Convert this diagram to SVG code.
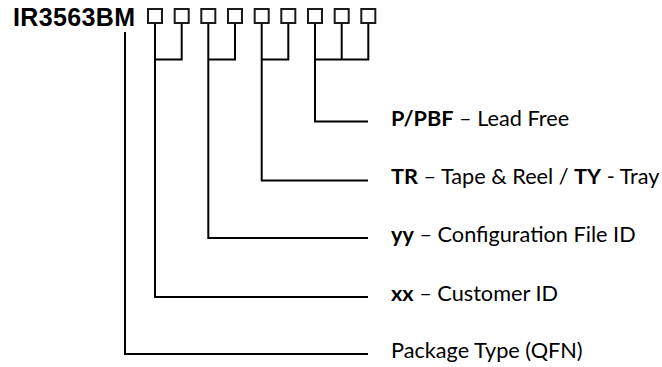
<svg xmlns="http://www.w3.org/2000/svg" width="662" height="367" viewBox="0 0 662 367">
<style>
.bg{fill:#ffffff}
.box{fill:#ffffff;stroke:#1a1a1a;stroke-width:2}
.conn{fill:none;stroke:#000000;stroke-width:2;stroke-linecap:butt;stroke-linejoin:miter}
.title{font-family:"Liberation Sans",Arial,sans-serif;font-weight:bold;font-size:25px;fill:#000000}
.lbl{font-family:Lato,"Open Sans","Liberation Sans",sans-serif;font-size:21.7px;fill:#000000}
.b{font-weight:bold}
</style>
<rect class="bg" x="0" y="0" width="662" height="367"/>
<g id="part-number">
<text class="title" x="13" y="26" textLength="122">IR3563BM</text>
<rect class="box" x="148" y="9" width="14" height="14"/>
<rect class="box" x="174.7" y="9" width="14" height="14"/>
<rect class="box" x="201.3" y="9" width="14" height="14"/>
<rect class="box" x="228" y="9" width="14" height="14"/>
<rect class="box" x="254.7" y="9" width="14" height="14"/>
<rect class="box" x="281.3" y="9" width="14" height="14"/>
<rect class="box" x="308" y="9" width="14" height="14"/>
<rect class="box" x="334.7" y="9" width="14" height="14"/>
<rect class="box" x="361.3" y="9" width="14" height="14"/>
</g>
<g id="connectors">
<path class="conn" d="M125,32 V354 H368"/>
<path class="conn" d="M181.7,24 V59.5 H155 M155,24 V297 H368"/>
<path class="conn" d="M235,24 V59.5 H208.3 M208.3,24 V238 H368"/>
<path class="conn" d="M288.3,24 V59.5 H261.7 M261.7,24 V180.5 H368"/>
<path class="conn" d="M368.3,24 V59.5 H315 M341.7,24 V59.5 M315,24 V121.5 H368"/>
</g>
<g id="label-lead-free">
<text class="lbl" x="391" y="125.5"><tspan class="b">P/PBF</tspan> – Lead Free</text>
</g>
<g id="label-packing">
<text class="lbl" x="391" y="184"><tspan class="b">TR</tspan> – Tape &amp; Reel / <tspan class="b">TY</tspan> - Tray</text>
</g>
<g id="label-config">
<text class="lbl" x="391" y="242"><tspan class="b">yy</tspan> – Configuration File ID</text>
</g>
<g id="label-customer">
<text class="lbl" x="391" y="301"><tspan class="b">xx</tspan> – Customer ID</text>
</g>
<g id="label-package">
<text class="lbl" x="391" y="358">Package Type (QFN)</text>
</g>
</svg>
